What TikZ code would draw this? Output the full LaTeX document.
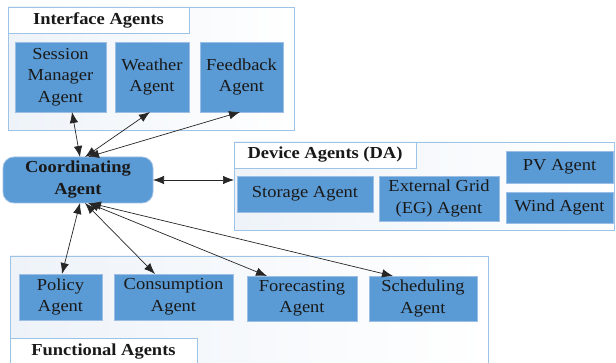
\documentclass[tikz,border=0pt]{standalone}
\usepackage{fontspec}
\setmainfont{Liberation Serif}[FakeStretch=1.1]
\usetikzlibrary{arrows.meta,calc}
\definecolor{agentblue}{HTML}{5B9BD5}
\definecolor{agentedge}{HTML}{9CBEE4}
\definecolor{contedge}{HTML}{9DC3E6}
\definecolor{contfill}{HTML}{EEF3F9}
\begin{document}
\begin{tikzpicture}[x=1pt,y=-1pt,
  every node/.style={inner sep=0pt, outer sep=0pt, font=\fontsize{16.8}{21.5}\selectfont, text=black!90},
  agent/.style={rectangle, fill=agentblue, draw=agentedge, line width=0.8pt, align=center},
  coord/.style={agent, rounded corners=11pt, font=\fontsize{16.8}{22}\selectfont\bfseries},
  cont/.style={rectangle, draw=contedge, line width=0.9pt, left color=contfill, right color=white},
  ttl/.style={rectangle, draw=contedge, line width=0.9pt, fill=white, font=\fontsize{16.8}{20}\selectfont\bfseries},
  link/.style={{Latex[length=11pt,width=8.5pt]}-{Latex[length=11pt,width=8.5pt]}, line width=0.7pt, draw=black!85}
]
\useasboundingbox (0,0) rectangle (616,363);
\fill[white] (0,0) rectangle (616,363);

% containers
\node[cont, minimum width=286pt, minimum height=123pt] (ifc) at (151,68.5) {};
\node[ttl, minimum width=181pt, minimum height=26pt] (ifct) at (98.5,20) {Interface Agents};
\node[cont, minimum width=380pt, minimum height=88pt] (dev) at (424,186) {};
\node[ttl, minimum width=182pt, minimum height=26pt] (devt) at (325,155) {Device Agents (DA)};
\node[cont, minimum width=478pt, minimum height=124pt] (fun) at (249,318) {};
\node[ttl, minimum width=187pt, minimum height=32pt] (funt) at (103.5,354) {};
\node (funtx) at (103.5,352) {\bfseries Functional Agents};

% interface agents
\node[agent, minimum width=91pt, minimum height=70pt] (sm) at (60.5,77) {Session\\Manager\\Agent};
\node[agent, minimum width=74pt, minimum height=70pt] (wa) at (152,77) {Weather\\Agent};
\node[agent, minimum width=83pt, minimum height=70pt] (fb) at (241.5,77) {Feedback\\Agent};

% coordinating agent
\node[coord, minimum width=150pt, minimum height=46pt] (ca) at (78,180) {Coordinating\\Agent};

% device agents
\node[agent, minimum width=136pt, minimum height=36pt] (st) at (305,194) {Storage Agent};
\node[agent, minimum width=120pt, minimum height=45pt] (eg) at (439,198.5) {External Grid\\(EG) Agent};
\node[agent, minimum width=107pt, minimum height=32pt] (pv) at (559.5,167) {PV Agent};
\node[agent, minimum width=107pt, minimum height=31pt] (wd) at (559.5,207.5) {Wind Agent};

% functional agents
\node[agent, minimum width=83pt, minimum height=46pt] (po) at (60.5,297) {Policy\\Agent};
\node[agent, minimum width=119pt, minimum height=46pt] (co) at (173.5,297) {Consumption\\Agent};
\node[agent, minimum width=110pt, minimum height=45pt] (fo) at (302,298.5) {Forecasting\\Agent};
\node[agent, minimum width=108pt, minimum height=45pt] (sc) at (423,298.5) {Scheduling\\Agent};

% connectors
\draw[link] ($(ca.north)+(2,0)$) -- ($(sm.south)+(11.5,0)$);
\draw[link] ($(ca.north)+(7,0)$) -- ($(wa.south)+(-2,0)$);
\draw[link] ($(ca.north)+(10,0)$) -- ($(fb.south)+(-1.5,0)$);
\draw[link] (ca.east) -- (ca.east -| dev.west);
\draw[link] ($(ca.south)+(2,0)$) -- ($(po.north)+(1.5,0)$);
\draw[link] ($(ca.south)+(7,0)$) -- ($(co.north)+(-18.5,0)$);
\draw[link] ($(ca.south)+(10,0)$) -- ($(fo.north)+(-35,0)$);
\draw[link] ($(ca.south)+(12,0)$) -- ($(sc.north)+(-30,0)$);
\end{tikzpicture}
\end{document}
